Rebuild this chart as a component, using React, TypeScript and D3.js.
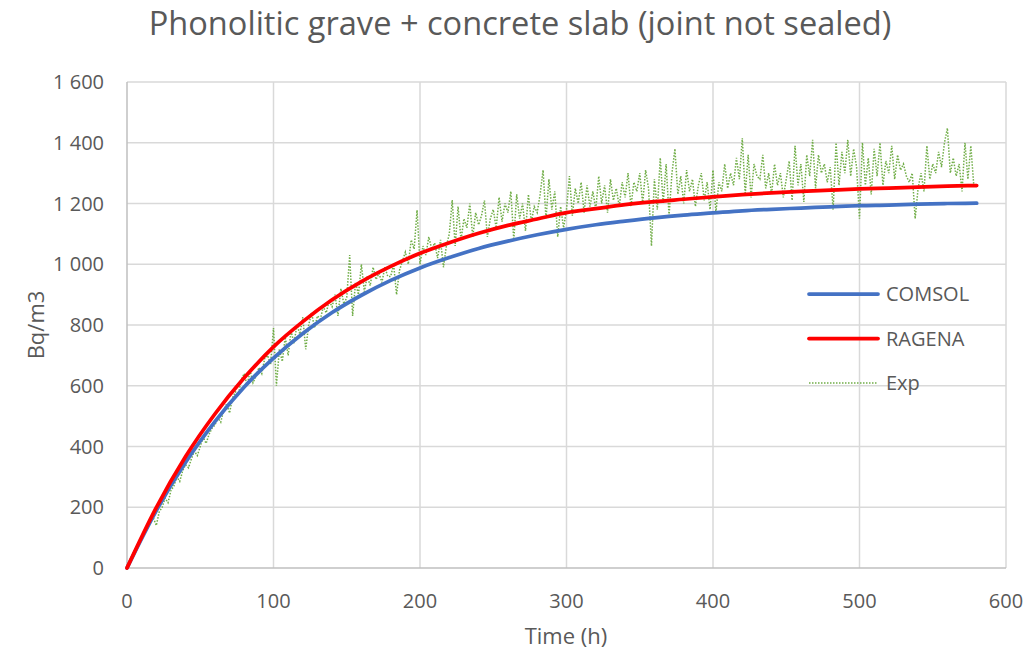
import React from "react";
import * as d3 from "d3";

const modelTimes = [0, 20, 40, 60, 80, 100, 120, 140, 160, 180, 200, 220, 240, 260, 280, 300, 320, 340, 360, 380, 400, 420, 440, 460, 480, 500, 520, 540, 560, 580];
const comsol = [0, 189, 348, 482, 596, 691, 772, 841, 898, 947, 988, 1022, 1052, 1076, 1097, 1115, 1130, 1142, 1153, 1162, 1169, 1176, 1181, 1185, 1189, 1193, 1195, 1198, 1200, 1201];
const ragena = [0, 199, 367, 507, 626, 728, 811, 883, 943, 993, 1036, 1071, 1102, 1128, 1149, 1170, 1183, 1196, 1206, 1214, 1222, 1229, 1235, 1240, 1244, 1248, 1251, 1254, 1257, 1259];

// Exp measured every 2 h starting at t = 0
const expStep = 2;
const expValues = [
  0, 25, 40, 62, 80, 95, 118, 130, 150, 165,
  140, 185, 200, 230, 215, 255, 270, 300, 285, 320,
  340, 330, 360, 385, 370, 400, 430, 410, 440, 460,
  470, 495, 480, 520, 540, 510, 560, 580, 570, 620,
  640, 600, 650, 610, 630, 660, 640, 690, 700, 670,
  790, 600, 720, 680, 760, 700, 780, 740, 800, 770,
  826, 720, 800, 840, 790, 830, 820, 860, 840, 880,
  860, 900, 830, 920, 870, 890, 1030, 830, 940, 900,
  1000, 910, 960, 930, 990, 950, 970, 940, 990, 960,
  960, 1000, 900, 980, 1010, 1040, 1000, 1080, 1050, 1178,
  1000, 1060, 1030, 1090, 1050, 1070, 1020, 1080, 990, 1060,
  1100, 1211, 1060, 1190, 1080, 1150, 1120, 1200, 1090, 1170,
  1130, 1160, 1210, 1090, 1150, 1180, 1120, 1220, 1140, 1200,
  1170, 1240, 1080, 1230, 1150, 1200, 1110, 1230, 1140, 1190,
  1170, 1230, 1310, 1150, 1280, 1180, 1240, 1090, 1190, 1120,
  1180, 1290, 1160, 1250, 1200, 1270, 1170, 1260, 1190, 1240,
  1180, 1290, 1200, 1260, 1170, 1280, 1210, 1250, 1190, 1270,
  1220, 1300, 1190, 1270, 1240, 1300, 1200, 1310, 1250, 1060,
  1280, 1180, 1350, 1200, 1330, 1160, 1300, 1380, 1230, 1290,
  1200, 1310, 1240, 1280, 1190, 1260, 1300, 1210, 1270, 1180,
  1310, 1170, 1270, 1240, 1330, 1250, 1300, 1260, 1350, 1280,
  1415, 1230, 1360, 1220, 1330, 1290, 1280, 1360, 1250, 1300,
  1230, 1330, 1260, 1300, 1220, 1280, 1340, 1210, 1390, 1260,
  1330, 1205, 1360, 1290, 1410, 1250, 1360, 1300, 1330, 1270,
  1320, 1180, 1400, 1260, 1370, 1300, 1410, 1290, 1380, 1320,
  1150, 1400, 1260, 1350, 1230, 1380, 1290, 1400, 1260, 1340,
  1300, 1390, 1280, 1360, 1310, 1330, 1290, 1270, 1300, 1150,
  1250, 1300, 1240, 1390, 1280, 1330, 1300, 1370, 1320, 1400,
  1448, 1300, 1350, 1290, 1330, 1240, 1400, 1280, 1390, 1260,
];

const xTicks = [0, 100, 200, 300, 400, 500, 600];
const yTicks = [0, 200, 400, 600, 800, 1000, 1200, 1400, 1600];
const legendItems = [
  { name: "COMSOL", color: "#4472c4", width: 3.75, dash: "" },
  { name: "RAGENA", color: "#ff0000", width: 3.75, dash: "" },
  { name: "Exp", color: "#70ad47", width: 1.5, dash: "1.5,1.5" },
];

const W = 1028;
const H = 651;
const left = 127;
const right = 1006;
const top = 82;
const bottom = 568;
const font = "'Open Sans', 'Noto Sans', sans-serif";
const textColor = "#595959";

export default function App() {
  const x = d3.scaleLinear().domain([0, 600]).range([left, right]);
  const y = d3.scaleLinear().domain([0, 1600]).range([bottom, top]);

  const smooth = d3
    .line<[number, number]>()
    .x((d) => x(d[0]))
    .y((d) => y(d[1]))
    .curve(d3.curveMonotoneX);
  const straight = d3
    .line<[number, number]>()
    .x((d) => x(d[0]))
    .y((d) => y(d[1]));

  const comsolPts = modelTimes.map((t, i) => [t, comsol[i]] as [number, number]);
  const ragenaPts = modelTimes.map((t, i) => [t, ragena[i]] as [number, number]);
  const expPts = expValues.map((v, i) => [i * expStep, v] as [number, number]);

  return (
    <svg width={W} height={H} style={{ position: "absolute", left: 0, top: 0, background: "#fff" }}>
      <rect x={0} y={0} width={W} height={H} fill="#fff" />
      <text x={520} y={35} textAnchor="middle" fontFamily={font} fontSize={32.6} fill={textColor}>
        Phonolitic grave + concrete slab (joint not sealed)
      </text>
      {yTicks.map((t) => (
        <g key={"y" + t}>
          {t > 0 && <line x1={left} x2={right} y1={y(t)} y2={y(t)} stroke="#d9d9d9" strokeWidth={1.5} />}
          <text x={104} y={y(t) + 7} textAnchor="end" fontFamily={font} fontSize={20} fill={textColor}>
            {d3.format(",")(t).replace(/,/g, " ")}
          </text>
        </g>
      ))}
      {xTicks.map((t) => (
        <g key={"x" + t}>
          {t > 0 && <line x1={x(t)} x2={x(t)} y1={top} y2={bottom} stroke="#d9d9d9" strokeWidth={1.5} />}
          <text x={x(t)} y={608} textAnchor="middle" fontFamily={font} fontSize={20} fill={textColor}>
            {t}
          </text>
        </g>
      ))}
      <line x1={left} x2={left} y1={top} y2={bottom} stroke="#bfbfbf" strokeWidth={1.5} />
      <line x1={left} x2={right} y1={bottom} y2={bottom} stroke="#bfbfbf" strokeWidth={1.5} />
      <path d={straight(expPts) || ""} fill="none" stroke="#70ad47" strokeWidth={1.5} strokeDasharray="1.5,1.5" />
      <path d={smooth(comsolPts) || ""} fill="none" stroke="#4472c4" strokeWidth={3.75} strokeLinecap="round" />
      <path d={smooth(ragenaPts) || ""} fill="none" stroke="#ff0000" strokeWidth={3.75} strokeLinecap="round" />
      {legendItems.map((it, i) => (
        <g key={it.name}>
          <line x1={809} x2={878} y1={294 + i * 44.5} y2={294 + i * 44.5} stroke={it.color} strokeWidth={it.width} strokeDasharray={it.dash} strokeLinecap={it.dash ? "butt" : "round"} />
          <text x={886} y={294 + i * 44.5 + 7} fontFamily={font} fontSize={20} fill={textColor}>
            {it.name}
          </text>
        </g>
      ))}
      <text x={566} y={644} textAnchor="middle" fontFamily={font} fontSize={22} fill={textColor}>
        Time (h)
      </text>
      <text transform={`translate(44, ${(top + bottom) / 2}) rotate(-90)`} textAnchor="middle" fontFamily={font} fontSize={22} fill={textColor}>
        Bq/m3
      </text>
    </svg>
  );
}
